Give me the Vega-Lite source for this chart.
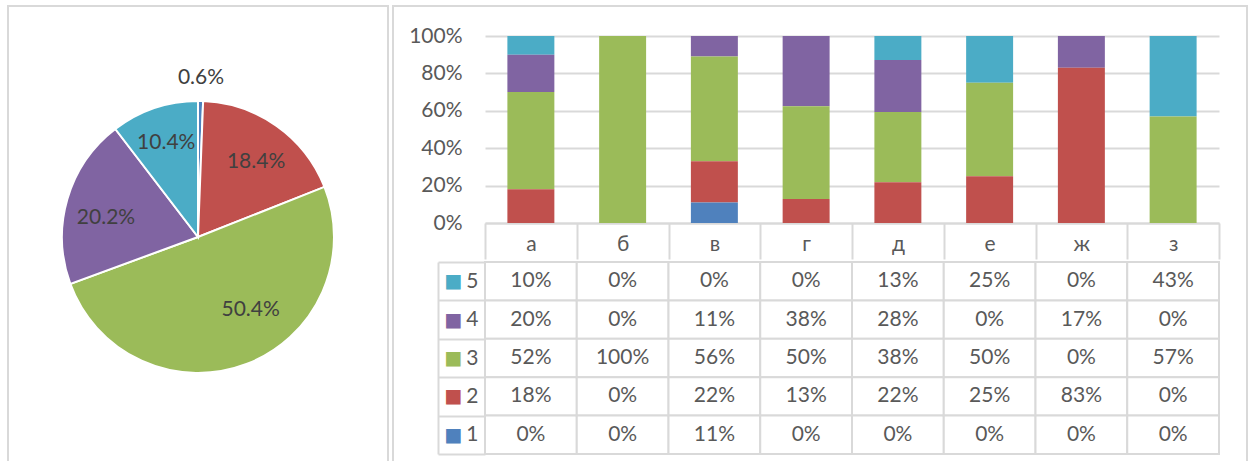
{
  "$schema": "https://vega.github.io/schema/vega-lite/v6.json",
  "padding": {"left": 7, "top": 5, "right": 0, "bottom": 0},
  "background": "white",
  "config": {"view": {"stroke": null}, "font": "Lato"},
  "datasets": {
    "pie": [
      {"s": 1, "v": 0.006},
      {"s": 2, "v": 0.184},
      {"s": 3, "v": 0.504},
      {"s": 4, "v": 0.202},
      {"s": 5, "v": 0.104}
    ],
    "tbl": [
      {"cat": "а", "s": 5, "v": 0.10}, {"cat": "а", "s": 4, "v": 0.20}, {"cat": "а", "s": 3, "v": 0.52}, {"cat": "а", "s": 2, "v": 0.18}, {"cat": "а", "s": 1, "v": 0},
      {"cat": "б", "s": 5, "v": 0}, {"cat": "б", "s": 4, "v": 0}, {"cat": "б", "s": 3, "v": 1.00}, {"cat": "б", "s": 2, "v": 0}, {"cat": "б", "s": 1, "v": 0},
      {"cat": "в", "s": 5, "v": 0}, {"cat": "в", "s": 4, "v": 0.11}, {"cat": "в", "s": 3, "v": 0.56}, {"cat": "в", "s": 2, "v": 0.22}, {"cat": "в", "s": 1, "v": 0.11},
      {"cat": "г", "s": 5, "v": 0}, {"cat": "г", "s": 4, "v": 0.38}, {"cat": "г", "s": 3, "v": 0.50}, {"cat": "г", "s": 2, "v": 0.13}, {"cat": "г", "s": 1, "v": 0},
      {"cat": "д", "s": 5, "v": 0.13}, {"cat": "д", "s": 4, "v": 0.28}, {"cat": "д", "s": 3, "v": 0.38}, {"cat": "д", "s": 2, "v": 0.22}, {"cat": "д", "s": 1, "v": 0},
      {"cat": "е", "s": 5, "v": 0.25}, {"cat": "е", "s": 4, "v": 0}, {"cat": "е", "s": 3, "v": 0.50}, {"cat": "е", "s": 2, "v": 0.25}, {"cat": "е", "s": 1, "v": 0},
      {"cat": "ж", "s": 5, "v": 0}, {"cat": "ж", "s": 4, "v": 0.17}, {"cat": "ж", "s": 3, "v": 0}, {"cat": "ж", "s": 2, "v": 0.83}, {"cat": "ж", "s": 1, "v": 0},
      {"cat": "з", "s": 5, "v": 0.43}, {"cat": "з", "s": 4, "v": 0}, {"cat": "з", "s": 3, "v": 0.57}, {"cat": "з", "s": 2, "v": 0}, {"cat": "з", "s": 1, "v": 0}
    ]
  },
  "spacing": 3,
  "hconcat": [
    {
      "width": 380,
      "height": 462,
      "view": {"stroke": "#d9d9d9", "strokeWidth": 2},
      "data": {"name": "pie"},
      "encoding": {
        "theta": {"field": "v", "type": "quantitative", "stack": true},
        "order": {"field": "s", "type": "ordinal", "sort": "ascending"},
        "color": {"field": "s", "type": "ordinal", "scale": {"domain": [1, 2, 3, 4, 5], "range": ["#4f81bd", "#c0504d", "#9bbb59", "#8064a2", "#4bacc6"]}, "legend": null}
      },
      "layer": [
        {"mark": {"type": "arc", "outerRadius": 136, "stroke": "white", "strokeWidth": 2}},
        {
          "mark": {"type": "text", "fontSize": 21, "align": "center", "baseline": "middle", "radius": 159},
          "encoding": {
            "text": {"condition": {"test": "datum.s === 1", "field": "v", "type": "quantitative", "format": ".1%"}, "value": ""},
            "color": {"value": "#404040"}
          }
        },
        {
          "mark": {"type": "text", "fontSize": 21, "align": "center", "baseline": "middle", "radius": 95, "thetaOffset": 0.042},
          "encoding": {
            "text": {"condition": {"test": "datum.s === 2", "field": "v", "type": "quantitative", "format": ".1%"}, "value": ""},
            "color": {"value": "#404040"}
          }
        },
        {
          "mark": {"type": "text", "fontSize": 21, "align": "center", "baseline": "middle", "radius": 90, "thetaOffset": -0.26},
          "encoding": {
            "text": {"condition": {"test": "datum.s === 3", "field": "v", "type": "quantitative", "format": ".1%"}, "value": ""},
            "color": {"value": "#404040"}
          }
        },
        {
          "mark": {"type": "text", "fontSize": 21, "align": "center", "baseline": "middle", "radius": 94, "thetaOffset": -0.077},
          "encoding": {
            "text": {"condition": {"test": "datum.s === 4", "field": "v", "type": "quantitative", "format": ".1%"}, "value": ""},
            "color": {"value": "#404040"}
          }
        },
        {
          "mark": {"type": "text", "fontSize": 21, "align": "center", "baseline": "middle", "radius": 99},
          "encoding": {
            "text": {"condition": {"test": "datum.s === 5", "field": "v", "type": "quantitative", "format": ".1%"}, "value": ""},
            "color": {"value": "#404040"}
          }
        }
      ]
    },
    {
      "columns": 2,
      "align": "none",
      "spacing": -855,
      "concat": [
        {
          "width": 854, "height": 470,
          "view": {"stroke": "#d9d9d9", "strokeWidth": 2},
          "data": {"values": [{"k": 0}]},
          "mark": {"type": "point", "opacity": 0}
        },
        {
          "spacing": -9,
          "vconcat": [
            {
              "width": 1, "height": 28,
              "data": {"values": [{"k": 0}]},
              "mark": {"type": "point", "opacity": 0}
            },
            {
              "width": 734,
              "height": 187,
              "data": {"name": "tbl"},
              "mark": {"type": "bar", "width": {"band": 0.512}},
              "encoding": {
                "x": {
                  "field": "cat", "type": "nominal",
                  "sort": ["а", "б", "в", "г", "д", "е", "ж", "з"],
                  "scale": {"paddingInner": 0, "paddingOuter": 0},
                  "axis": {"title": null, "labelAngle": 0, "labelFontSize": 21, "labelColor": "#595959", "labelBaseline": "middle", "labelPadding": -15, "tickBand": "extent", "ticks": true, "tickSize": 36, "tickColor": "#d9d9d9", "tickWidth": 2, "domain": true, "domainColor": "#d9d9d9", "domainWidth": 2, "grid": false}
                },
                "y": {
                  "field": "v", "type": "quantitative", "stack": "normalize",
                  "scale": {"domain": [0, 1]},
                  "axis": {"title": null, "format": ".0%", "values": [0, 0.2, 0.4, 0.6, 0.8, 1], "labelFontSize": 21, "labelColor": "#595959", "labelPadding": 23, "ticks": false, "domain": false, "grid": true, "gridColor": "#d9d9d9", "gridWidth": 2, "minExtent": 92}
                },
                "color": {"field": "s", "type": "ordinal", "scale": {"domain": [1, 2, 3, 4, 5], "range": ["#4f81bd", "#c0504d", "#9bbb59", "#8064a2", "#4bacc6"]}, "legend": null},
                "order": {"field": "s", "type": "ordinal", "sort": "ascending"}
              }
            },
            {
              "width": 734,
              "height": 192,
              "data": {"name": "tbl"},
              "encoding": {
                "x": {"field": "cat", "type": "nominal", "sort": ["а", "б", "в", "г", "д", "е", "ж", "з"], "scale": {"paddingInner": 0, "paddingOuter": 0}, "axis": null}
              },
              "layer": [
                {
                  "mark": {"type": "rect", "fill": "white", "stroke": "#d9d9d9", "strokeWidth": 2},
                  "encoding": {
                    "y": {"field": "s", "type": "ordinal", "sort": "descending", "scale": {"paddingInner": 0, "paddingOuter": 0},
                      "axis": {"title": null, "orient": "left", "labelFontSize": 21, "labelColor": "#595959", "labelPadding": -40, "labelBaseline": "middle", "ticks": true, "tickBand": "extent", "tickSize": 47, "tickColor": "#d9d9d9", "tickWidth": 2, "domain": false, "grid": false}}
                  }
                },
                {
                  "mark": {"type": "text", "fontSize": 21, "color": "#595959"},
                  "encoding": {
                    "y": {"field": "s", "type": "ordinal", "sort": "descending", "scale": {"paddingInner": 0, "paddingOuter": 0},
                      "axis": {"title": null, "orient": "left", "offset": 47, "labelExpr": "'■'", "labelFont": "DejaVu Sans", "labelFontSize": 19, "labelAlign": "center", "labelBaseline": "middle", "labelPadding": -15,
                        "labelColor": {"condition": [{"test": "datum.value == 5", "value": "#4bacc6"}, {"test": "datum.value == 4", "value": "#8064a2"}, {"test": "datum.value == 3", "value": "#9bbb59"}, {"test": "datum.value == 2", "value": "#c0504d"}], "value": "#4f81bd"},
                        "ticks": false, "domain": true, "domainColor": "#d9d9d9", "domainWidth": 2, "grid": false}},
                    "text": {"field": "v", "type": "quantitative", "format": ".0%"}
                  }
                }
              ],
              "resolve": {"axis": {"y": "independent"}}
            }
          ]
        }
      ]
    }
  ]
}
